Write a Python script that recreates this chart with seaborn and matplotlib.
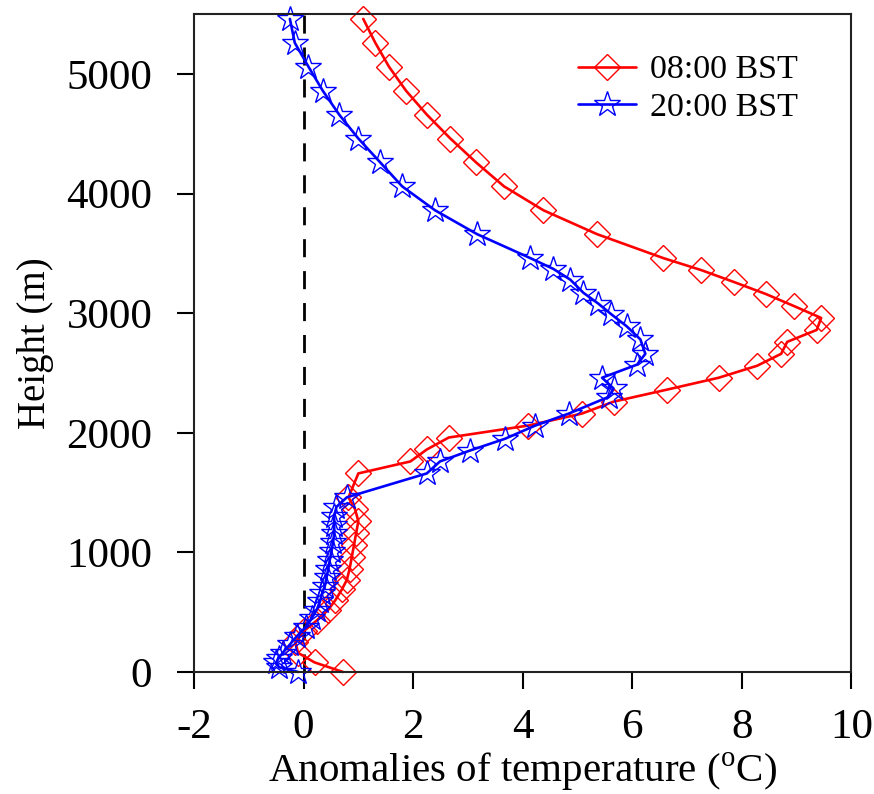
import matplotlib
matplotlib.use('Agg')
import matplotlib.pyplot as plt
import seaborn as sns
import pandas as pd

# 08:00 BST profile
height_08 = [0, 80, 160, 250, 340, 430, 520, 600, 690, 770, 860, 960, 1060, 1160, 1260,
             1360, 1460, 1660, 1760, 1860, 1960, 2060, 2160, 2260, 2360, 2460, 2560, 2660,
             2760, 2860, 2960, 3060, 3160, 3260, 3360, 3460, 3660, 3860, 4060, 4260, 4460,
             4660, 4860, 5060, 5260, 5460]
temp_08 = [0.72, 0.20, -0.10, -0.15, 0.00, 0.24, 0.45, 0.58, 0.70, 0.79, 0.84, 0.88, 0.92,
           0.96, 1.00, 0.94, 0.82, 1.00, 1.95, 2.25, 2.65, 4.10, 5.08, 5.66, 6.63, 7.58,
           8.28, 8.72, 8.83, 9.37, 9.45, 8.95, 8.44, 7.86, 7.26, 6.57, 5.36, 4.38, 3.66,
           3.15, 2.68, 2.25, 1.87, 1.56, 1.31, 1.09]

# 20:00 BST profile
height_20 = [0, 40, 80, 120, 160, 230, 300, 380, 450, 520, 590, 660, 720, 790, 860, 940,
             1010, 1090, 1160, 1230, 1300, 1380, 1460, 1660, 1760, 1850, 1950, 2060, 2160,
             2300, 2370, 2460, 2570, 2660, 2780, 2890, 2990, 3080, 3170, 3280, 3370, 3460,
             3660, 3860, 4060, 4260, 4460, 4660, 4860, 5060, 5260, 5460]
temp_20 = [-0.10, -0.45, -0.50, -0.45, -0.38, -0.25, -0.12, 0.05, 0.15, 0.24, 0.30, 0.34,
           0.39, 0.42, 0.45, 0.48, 0.51, 0.54, 0.56, 0.56, 0.56, 0.60, 0.79, 2.25, 2.49,
           3.03, 3.68, 4.23, 4.84, 5.57, 5.66, 5.45, 6.09, 6.24, 6.15, 5.90, 5.62, 5.38,
           5.11, 4.87, 4.56, 4.14, 3.17, 2.40, 1.80, 1.40, 1.00, 0.65, 0.35, 0.09, -0.16,
           -0.25]

x_ticks = [-2, 0, 2, 4, 6, 8, 10]
y_ticks = [0, 1000, 2000, 3000, 4000, 5000]

df08 = pd.DataFrame({'temp': temp_08, 'height': height_08})
df20 = pd.DataFrame({'temp': temp_20, 'height': height_20})

sns.set_style('ticks')
plt.rcParams['font.family'] = ['Liberation Serif', 'DejaVu Serif']
plt.rcParams['mathtext.fontset'] = 'custom'
plt.rcParams['mathtext.rm'] = 'Liberation Serif'
plt.rcParams['text.color'] = 'black'
plt.rcParams['axes.labelcolor'] = 'black'

fig = plt.figure(figsize=(8.74, 7.94), dpi=100)
ax = fig.add_axes([0.222, 0.1537, 0.752, 0.8285])

ax.axvline(0, color='black', lw=2, ls=(0, (6.5, 5)), zorder=1)

sns.lineplot(data=df08, x='temp', y='height', sort=False, estimator=None, ax=ax,
             color='red', lw=1.9, marker='D', markersize=13, markerfacecolor='none',
             markeredgecolor='red', markeredgewidth=1.0, label='08:00 BST', clip_on=False)
sns.lineplot(data=df20, x='temp', y='height', sort=False, estimator=None, ax=ax,
             color='blue', lw=1.9, marker='*', markersize=19, markerfacecolor='none',
             markeredgecolor='blue', markeredgewidth=1.0, label='20:00 BST', clip_on=False)

ax.set_xlim(-2, 10)
ax.set_ylim(0, 5500)
ax.set_xticks(x_ticks)
ax.set_xticklabels([str(v) for v in x_ticks])
ax.set_yticks(y_ticks)
ax.tick_params(direction='out', length=12, width=1.5, labelsize=31, colors='black')
ax.tick_params(axis='x', pad=14)
ax.tick_params(axis='y', pad=18)
for sp in ax.spines.values():
    sp.set_linewidth(1.5)
    sp.set_color('#222222')

ax.set_xlabel('Anomalies of temperature ($^{\\rm o}$C)', fontsize=29.5, labelpad=3)
ax.set_ylabel('Height (m)', fontsize=28, labelpad=9)

ax.legend(loc='upper right', frameon=False, fontsize=24.5, handlelength=1.7,
          labelspacing=0.2, handletextpad=0.4, bbox_to_anchor=(0.965, 0.985))

fig.savefig('out.png', dpi=100)
